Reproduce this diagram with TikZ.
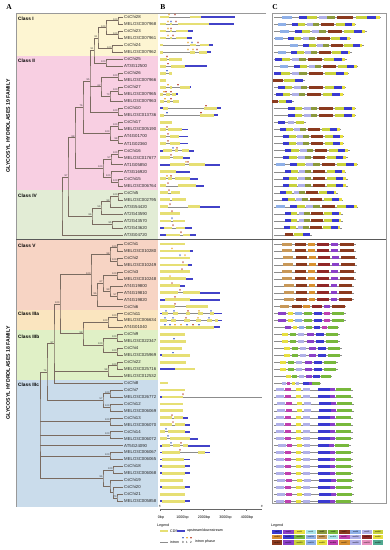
\documentclass[tikz,border=0pt]{standalone}
\usepackage{fontspec}
\setmainfont{Liberation Serif}
\setsansfont{Liberation Sans}
\usetikzlibrary{calc}
\definecolor{bgI}{HTML}{FDF5D2}
\definecolor{bgII}{HTML}{F8CFE2}
\definecolor{bgIV}{HTML}{E2ECD5}
\definecolor{bgV}{HTML}{F7D4C4}
\definecolor{bgIIIa}{HTML}{FAE5BF}
\definecolor{bgIIIb}{HTML}{E0F0C6}
\definecolor{bgIIIc}{HTML}{CADCEB}
\definecolor{treec}{HTML}{7A6B60}
\definecolor{cdsc}{HTML}{E6DF74}
\definecolor{utrc}{HTML}{4242C8}
\definecolor{intc}{HTML}{8C8C8C}
\definecolor{ph0c}{HTML}{3D5CC8}
\definecolor{ph1c}{HTML}{E8A020}
\definecolor{ph2c}{HTML}{B8402A}
\definecolor{mlb}{HTML}{8FB0E8}
\definecolor{mb}{HTML}{3A3AD0}
\definecolor{myg}{HTML}{C8D23C}
\definecolor{mlav}{HTML}{B0B0E8}
\definecolor{mol}{HTML}{8C9A3C}
\definecolor{mbr}{HTML}{8B3A1E}
\definecolor{my}{HTML}{E8E040}
\definecolor{mpu}{HTML}{8A40C8}
\definecolor{mmag}{HTML}{C040B0}
\definecolor{mor}{HTML}{D89030}
\definecolor{mtan}{HTML}{C89858}
\definecolor{mdr}{HTML}{902828}
\definecolor{mgr}{HTML}{78B83C}
\definecolor{mcy}{HTML}{A8E4EC}
\definecolor{mpink}{HTML}{E890C0}
\definecolor{mteal}{HTML}{50A890}
\newcommand\leafY[1]{\pgfmathsetmacro\ly{(#1<33) ? (17+(#1-1)*7.03) : (244+(#1-33)*6.95)}}
\newcommand\clade[5]{%
  \coordinate (t#1) at ($(#3)!0.5!(#4)$);
  \coordinate (#1) at ($(#2,0)!(t#1)!(#2,10)$);
  \draw[tree] (#3) -| (#1) |- (#4);
  \if\relax\detokenize{#5}\relax\else\node[bs] (b#1) at (#1) {#5};\fi
}
\newcommand\kid[2]{\draw[tree] (#1 |- #2) -- (#2);}
\def\hY{1.35}\def\hB{0.95}
\newcommand\gene[4]{%
  \leafY{#1}%
  \draw[intron] (160,\ly) -- (#2,\ly);
  \foreach \tp/\xa/\xb in {#3}{\path[g\tp] (\xa,{\ly-\csname h\tp\endcsname}) rectangle (\xb,{\ly+\csname h\tp\endcsname});}%
  \foreach \mx/\phs in {#4}{\path[ph\phs] (\mx,{\ly-1.5}) -- ++(-0.9,-1.7) -- ++(1.8,0) -- cycle;}%
}
\newcommand\mrow[5]{%
  \leafY{#1}%
  \draw[mline] (274,\ly) -- ({#2+#3*#5+1.5},\ly);
  \foreach \mc/\xa/\xb in #4 {\fill[\mc] ({#2+#3*\xa},{\ly-1.5}) rectangle ({#2+#3*\xb},{\ly+1.5});}%
}
\def\patA{mlb/0/9, mb/15/22, myg/22/30, mlav/32/39, mol/39/46, mbr/48/62, myg/64/74, mb/74/82, my/82/85}
\def\patB{mb/0/7, myg/7/15, mlav/17/24, mol/24/31, mbr/33/47, myg/49/59, mb/59/67, my/67/70}
\def\patC{mbr/0/8, myg/9/18, mb/18/25}
\def\patD{mb/0/7, mlav/10/16, myg/18/26}
\def\patV{mtan/0/10, mbr/13/24, mor/26/33, mdr/35/47, mpu/49/56, mbr/58/72}
\def\patIIIa{mpu/0/8, my/10/15, mlb/17/24, mgr/26/34, mb/36/44, mmag/46/52, mgr/54/66}
\def\patIIIb{my/0/6, mgr/8/14, mlav/16/22, mpu/25/32, mb/34/42, mgr/44/56}
\def\patIIIc{mlav/0/8, mmag/9/15, my/20/25, mlav/27/34, mb/42/54, mpu/54/59, mgr/60/75}
\tikzset{
  tree/.style={draw=treec, line width=0.35pt},
  bs/.style={anchor=south east, inner sep=0.2pt, xshift=-0.2pt, font=\sffamily\fontsize{2.5}{3}\selectfont, text=black!80},
  leaf/.style={anchor=west, inner sep=0pt, font=\sffamily\fontsize{4.3}{5}\selectfont, text=black!85},
  cls/.style={anchor=west, inner sep=0pt, font=\sffamily\bfseries\fontsize{4.8}{5}\selectfont},
  fam/.style={inner sep=0pt, font=\sffamily\bfseries\fontsize{5.2}{6}\selectfont, rotate=90},
  pl/.style={inner sep=0pt, font=\bfseries\fontsize{7.5}{8}\selectfont},
  intron/.style={draw=intc, line width=0.4pt},
  gY/.style={fill=cdsc},
  gB/.style={fill=utrc},
  ph0/.style={fill=ph0c},
  ph1/.style={fill=ph1c},
  ph2/.style={fill=ph2c},
  phn/.style={},
  mline/.style={draw=black!45, line width=0.3pt},
  frame/.style={draw=black!40, line width=0.4pt},
  lgt/.style={anchor=west, inner sep=0pt, font=\sffamily\fontsize{3.6}{4}\selectfont},
  lgc/.style={inner sep=0pt, font=\sffamily\fontsize{1.8}{2}\selectfont},
}
\begin{document}
\begin{tikzpicture}[x=1pt,y=-1pt]
\useasboundingbox (0,0) rectangle (390,550);
\fill[white] (0,0) rectangle (390,550);
% backgrounds
\fill[bgI] (16,13) rectangle (158,56);
\fill[bgII] (16,56) rectangle (158,190);
\fill[bgIV] (16,190) rectangle (158,239);
\fill[bgV] (16,239) rectangle (158,310);
\fill[bgIIIa] (16,310) rectangle (158,330);
\fill[bgIIIb] (16,330) rectangle (158,380);
\fill[bgIIIc] (16,380) rectangle (158,507);
% frames
\draw[frame] (266,13) -- (16,13) -- (16,507);
\draw[frame] (272,13) rectangle (386,503);
\draw[black!65, line width=0.5pt] (16,239) -- (386,239);
% panel letters
\node[pl] (pA) at (9,7) {A};
\node[pl] (pB) at (163,7) {B};
\node[pl] (pC) at (275,7) {C};
\node[fam] (f19) at (8,126) {GLYCOSYL HYDROLASES 19 FAMILY};
\node[fam] (f18) at (8,373) {GLYCOSYL HYDROLASES 18 FAMILY};
% class labels
\node[cls] (cI) at (18,19) {Class I};
\node[cls] (cII) at (18,61) {Class II};
\node[cls] (cIV) at (18,196) {Class IV};
\node[cls] (cV) at (18,246) {Class V};
\node[cls] (cIIIa) at (18,314) {Class IIIa};
\node[cls] (cIIIb) at (18,337) {Class IIIb};
\node[cls] (cIIIc) at (18,385) {Class IIIc};
% leaves
\foreach \i/\nm in {1/CsChi28, 2/MELO3C007968, 3/CsChi23, 4/MELO3C007961, 5/CsChi24, 6/MELO3C007962, 7/CsChi25, 8/AT3G12500, 9/CsChi26, 10/MELO3C007966, 11/CsChi27, 12/MELO3C007965, 13/MELO3C007963, 14/CsChi10, 15/MELO3C013736, 16/CsChi17, 17/MELO3C005190, 18/AT4G01700, 19/AT1G02360, 20/CsChi16, 21/MELO3C017677, 22/AT1G05850, 23/AT3G16920, 24/CsChi15, 25/MELO3C006764, 26/CsChi5, 27/MELO3C002795, 28/AT3G54420, 29/AT2G43590, 30/AT2G43570, 31/AT2G43620, 32/AT3G04720, 33/CsChi1, 34/MELO3C010280, 35/CsChi2, 36/MELO3C010249, 37/CsChi3, 38/MELO3C010248, 39/AT4G19800, 40/AT4G19810, 41/AT4G19820, 42/CsChi6, 43/CsChi11, 44/MELO3C006634, 45/AT4G01040, 46/CsChi9, 47/MELO3C022347, 48/CsChi4, 49/MELO3C025969, 50/CsChi22, 51/MELO3C025716, 52/MELO3C012532, 53/CsChi8, 54/CsChi7, 55/MELO3C026772, 56/CsChi12, 57/MELO3C006069, 58/CsChi13, 59/MELO3C006070, 60/CsChi14, 61/MELO3C006072, 62/AT5G24090, 63/MELO3C006067, 64/MELO3C006065, 65/CsChi18, 66/MELO3C006068, 67/CsChi19, 68/CsChi20, 69/CsChi21, 70/MELO3C005858}{
  \leafY{\i}
  \coordinate (L\i) at (123,\ly);
  \node[leaf] (T\i) at (124,\ly) {\nm};
}
% ---- GH19 tree
\clade{n12}{118}{L1}{L2}{100}
\clade{n34}{118}{L3}{L4}{100}
\clade{n14}{106}{n12}{n34}{100}
\clade{n56}{112}{L5}{L6}{100}
\clade{nI}{98}{n14}{n56}{81}
\clade{n78}{106}{L7}{L8}{100}
\clade{nC}{94}{nI}{n78}{91}
\clade{n910}{118}{L9}{L10}{100}
\clade{n1112}{118}{L11}{L12}{100}
\clade{n13}{110}{n1112}{L13}{70}
\clade{nA}{101}{n910}{n13}{62}
\clade{n1415}{118}{L14}{L15}{100}
\clade{nX}{90}{nC}{n1415}{95}
\kid{nX}{nA}
\clade{n1617}{118}{L16}{L17}{100}
\clade{n1819}{118}{L18}{L19}{98}
\clade{nS}{110}{n1617}{n1819}{100}
\clade{nY}{83}{nX}{nS}{76}
\clade{n2021}{118}{L20}{L21}{100}
\clade{n22}{111}{n2021}{L22}{57}
\clade{n2425}{118}{L24}{L25}{100}
\clade{n23}{111}{L23}{n2425}{100}
\clade{nR}{103}{n22}{n23}{100}
\clade{nZ}{75}{nY}{nR}{88}
\clade{n2627}{118}{L26}{L27}{100}
\clade{nQa}{110}{n2627}{L28}{99}
\clade{nQb}{101}{nQa}{L29}{59}
\clade{n3031}{112}{L30}{L31}{95}
\clade{nQc}{92}{nQb}{n3031}{86}
\clade{nG}{68}{nZ}{nQc}{97}
\clade{r19}{62}{nG}{L32}{}
% ---- GH18 tree
\clade{a1}{117}{L33}{L34}{100}
\clade{a2}{117}{L35}{L36}{100}
\clade{a3}{110}{a1}{a2}{98}
\clade{a4}{117}{L37}{L38}{100}
\clade{a5}{117}{L40}{L41}{57}
\clade{a6}{110}{L39}{a5}{99}
\clade{a7}{103}{a4}{a6}{67}
\clade{a8}{97}{a7}{L42}{96}
\clade{a9}{91}{a3}{a8}{100}
\clade{b1}{117}{L43}{L44}{100}
\clade{b2}{108}{b1}{L45}{100}
\clade{c1}{117}{L46}{L47}{100}
\clade{c2}{117}{L48}{L49}{100}
\clade{c3}{103}{c1}{c2}{100}
\clade{c4}{117}{L50}{L51}{100}
\clade{c5}{108}{c4}{L52}{98}
\clade{d1}{83}{b2}{c3}{98}
\clade{d2}{60}{a9}{d1}{100}
\clade{d3}{54}{d2}{L53}{97}
\kid{d3}{c5}
\clade{e1}{110}{L54}{L55}{100}
\clade{e2}{110}{L56}{L57}{100}
\clade{e3}{103}{e1}{e2}{57}
\clade{ff}{47}{d3}{e3}{74}
\clade{g1}{110}{L58}{L59}{100}
\clade{g2}{110}{L60}{L61}{100}
\clade{g3}{110}{L63}{L64}{100}
\clade{h1}{113}{L65}{L66}{100}
\clade{h2}{117}{L69}{L70}{70}
\clade{h3}{113}{L68}{h2}{}
\clade{h4}{110}{L67}{h3}{}
\clade{h5}{103}{h1}{h4}{96}
\clade{r18}{40}{ff}{h5}{}
\kid{r18}{g1}
\kid{r18}{g2}
\kid{r18}{L62}
\kid{r18}{g3}
% ---- panel B gene structures
\gene{1}{235}{Y/160/169, Y/190/201, B/201/235}{169/1, 175/2}
\gene{2}{234}{Y/160/166, Y/170/172, Y/178/209, B/209/234}{168/1, 171/0, 176/2}
\gene{3}{193}{Y/160/166, Y/170/172, Y/176/188, B/188/193}{168/1, 171/2}
\gene{4}{192}{Y/160/166, Y/170/172, Y/176/187, B/187/192}{168/1, 173/2}
\gene{5}{213}{Y/160/163, Y/190/196, Y/200/209, B/209/213}{188/1, 192/0, 198/2}
\gene{6}{211}{Y/160/163, Y/190/195, Y/199/207, B/207/211}{188/1, 193/1, 197/2}
\gene{7}{182}{Y/160/167, Y/169/182}{167/2}
\gene{8}{207}{Y/160/166, Y/171/185, B/185/207}{168/2}
\gene{9}{172}{Y/160/166, Y/169/172}{167/0}
\gene{10}{166}{Y/160/166}{0/n}
\gene{11}{191}{Y/160/166, Y/170/172, Y/180/190, B/190/191}{168/1, 178/2}
\gene{12}{178}{Y/160/163, Y/166/170, Y/172/176, B/176/178}{164/1, 166/2, 171/2}
\gene{13}{179}{Y/160/164, Y/167/170, Y/173/179}{165/1, 171/2}
\gene{14}{221}{B/160/163, Y/163/168, Y/204/217, B/217/221}{206/2}
\gene{15}{218}{Y/160/164, Y/200/214, B/214/218}{167/0, 201/2}
\gene{16}{172}{Y/160/172}{0/n}
\gene{17}{188}{Y/160/166, Y/168/182, B/182/188}{167/2}
\gene{18}{188}{Y/160/166, Y/170/179, B/179/188}{168/2}
\gene{19}{188}{Y/160/166, Y/170/180, B/180/188}{168/2}
\gene{20}{194}{B/160/163, Y/163/172, Y/175/178, Y/182/189, B/189/194}{173/0, 177/2}
\gene{21}{190}{Y/160/170, Y/173/183, B/183/190}{171/2}
\gene{22}{220}{B/160/170, Y/170/185, Y/189/205, B/205/220}{186/1, 188/2}
\gene{23}{190}{Y/160/176, B/176/190}{0/n}
\gene{24}{198}{Y/160/166, Y/168/172, Y/175/190, B/190/198}{167/1, 171/2}
\gene{25}{204}{Y/160/166, Y/178/196, B/196/204}{168/2}
\gene{26}{180}{Y/160/168, Y/171/180}{169/2}
\gene{27}{186}{Y/160/170, Y/172/186}{0/n}
\gene{28}{220}{Y/160/168, Y/188/200, B/200/220}{170/2}
\gene{29}{180}{Y/160/180}{172/2}
\gene{30}{185}{Y/160/171, Y/173/185}{172/0}
\gene{31}{192}{B/160/164, Y/164/172, Y/176/185, B/185/192}{173/2}
\gene{32}{196}{B/160/166, Y/166/180, Y/183/190, B/190/196}{181/2}
\gene{33}{185}{Y/160/185}{0/n}
\gene{34}{193}{Y/160/190, B/190/193}{172/1}
\gene{35}{190}{Y/160/190}{180/0, 185/1}
\gene{36}{192}{Y/160/188, B/188/192}{183/2}
\gene{37}{190}{Y/160/190}{182/2}
\gene{38}{193}{Y/160/186, B/186/193}{170/1}
\gene{39}{185}{Y/160/180, B/180/185}{172/2}
\gene{40}{220}{Y/160/178, Y/183/200, B/200/220}{180/2}
\gene{41}{220}{B/160/165, Y/165/190, B/190/220}{175/2}
\gene{42}{208}{Y/160/175, Y/186/208}{175/2}
\gene{43}{222}{B/160/162, Y/162/168, Y/173/178, Y/186/190, Y/198/203, Y/210/214, B/214/222}{166/0, 174/0, 188/2, 199/1, 211/0}
\gene{44}{222}{Y/160/167, Y/171/176, Y/184/190, Y/196/201, Y/207/212, Y/215/218, B/218/222}{165/0, 173/0, 186/2, 198/1, 209/0}
\gene{45}{220}{Y/160/214, B/214/220}{165/0, 170/0, 175/1, 181/1, 187/0, 193/2, 199/0}
\gene{46}{185}{Y/160/185}{0/n}
\gene{47}{186}{Y/160/186}{174/0}
\gene{48}{182}{Y/160/182}{0/n}
\gene{49}{190}{B/160/162, Y/162/190}{173/0}
\gene{50}{186}{Y/160/186}{0/n}
\gene{51}{195}{B/160/175, Y/175/195}{0/n}
\gene{53}{168}{Y/160/168}{0/n}
\gene{54}{185}{Y/160/185}{0/n}
\gene{55}{262}{B/160/162, Y/162/183}{183/2}
\gene{56}{183}{Y/160/183}{0/n}
\gene{57}{183}{Y/160/183}{0/n}
\gene{58}{188}{Y/160/172, Y/174/183, B/183/188}{172/2}
\gene{59}{190}{Y/160/172, Y/175/185, B/185/190}{173/2}
\gene{60}{190}{Y/160/165, Y/168/185, B/185/190}{166/0}
\gene{61}{198}{Y/160/167, Y/170/190, B/190/198}{168/0}
\gene{62}{210}{B/160/162, Y/162/170, Y/173/180, Y/183/188, B/188/210}{171/0, 181/2}
\gene{63}{210}{B/160/162, Y/162/180, Y/198/205, B/205/210}{180/2}
\gene{64}{190}{B/160/162, Y/162/184, B/184/190}{0/n}
\gene{65}{190}{B/160/162, Y/162/185, B/185/190}{0/n}
\gene{66}{190}{B/160/162, Y/162/185, B/185/190}{0/n}
\gene{67}{183}{Y/160/183}{0/n}
\gene{68}{190}{B/160/162, Y/162/185, B/185/190}{0/n}
\gene{69}{185}{Y/160/185}{0/n}
\gene{70}{190}{B/160/162, Y/162/185, B/185/190}{0/n}
% scale axis
\coordinate (ax0) at (160,509);
\coordinate (ax1) at (262,509);
\draw[black!60, line width=0.4pt] (ax0) -- (ax1);
\foreach \k/\lab in {0/0bp, 1/1000bp, 2/2000bp, 3/3000bp, 4/4000bp}{
  \draw[black!60, line width=0.3pt] ({160+21.5*\k},509) -- ({160+21.5*\k},511);
  \node[inner sep=0pt, font=\sffamily\fontsize{3.6}{4}\selectfont] (ax\k) at ({161+21.5*\k},518) {\lab};
}
\node[inner sep=0pt, font=\sffamily\fontsize{3}{3}\selectfont] (a5p) at (160,506) {5'};
\node[inner sep=0pt, font=\sffamily\fontsize{3}{3}\selectfont] (a3p) at (262,506) {3'};
% legend B
\node[lgt] (lgB) at (157,526) {Legend};
\fill[cdsc] (160,529.7) rectangle (168,532.3);
\node[lgt] (lcds) at (170,531) {CDS};
\fill[utrc] (177,530.1) rectangle (185,531.9);
\node[lgt] (lutr) at (187,531) {upstream/downstream};
\draw[intron] (160,542) -- (168,542);
\node[lgt] (lint) at (170,542) {intron};
\foreach \q/\xx in {0/183, 1/187, 2/191}{
  \path[ph\q] (\xx,538.8) -- ++(-0.9,-1.7) -- ++(1.8,0) -- cycle;
  \node[inner sep=0pt, font=\sffamily\fontsize{3}{3}\selectfont] (lph\q) at (\xx,542) {\q};
}
\node[lgt] (lphase) at (195,542) {intron phase};
% ---- panel C motifs
\mrow{1}{282}{1.15}{\patA}{85}
\mrow{2}{278}{0.9}{\patA}{85}
\mrow{3}{280}{1.0}{\patA}{85}
\mrow{4}{275}{0.88}{\patA}{85}
\mrow{5}{290}{0.85}{\patA}{85}
\mrow{6}{278}{0.85}{\patA}{85}
\mrow{7}{275}{1.0}{\patB}{70}
\mrow{8}{280}{0.9}{\patA}{85}
\mrow{9}{274}{1.05}{\patB}{70}
\mrow{10}{273}{1.2}{\patC}{25}
\mrow{11}{278}{0.95}{\patB}{70}
\mrow{12}{276}{0.95}{\patB}{70}
\mrow{13}{272}{0.8}{\patC}{25}
\mrow{14}{288}{0.95}{\patB}{70}
\mrow{15}{288}{0.95}{\patB}{70}
\mrow{16}{278}{1.0}{\patD}{26}
\mrow{17}{280}{0.85}{\patB}{70}
\mrow{18}{283}{0.85}{\patB}{70}
\mrow{19}{283}{0.85}{\patB}{70}
\mrow{20}{285}{0.9}{\patB}{70}
\mrow{21}{283}{0.9}{\patB}{70}
\mrow{22}{276}{0.95}{\patA}{85}
\mrow{23}{285}{0.85}{\patB}{70}
\mrow{24}{283}{0.9}{\patB}{70}
\mrow{25}{283}{0.9}{\patB}{70}
\mrow{26}{280}{0.8}{\patB}{70}
\mrow{27}{282}{0.85}{\patB}{70}
\mrow{28}{276}{0.95}{\patA}{85}
\mrow{29}{285}{0.8}{\patB}{70}
\mrow{30}{285}{0.8}{\patB}{70}
\mrow{31}{284}{0.8}{\patB}{70}
\mrow{32}{285}{1.0}{\patC}{25}
\mrow{33}{282}{1.0}{\patV}{72}
\mrow{34}{282}{1.0}{\patV}{72}
\mrow{35}{283}{1.0}{\patV}{72}
\mrow{36}{283}{1.0}{\patV}{72}
\mrow{37}{282}{1.0}{\patV}{72}
\mrow{38}{282}{1.0}{\patV}{72}
\mrow{39}{284}{0.95}{\patV}{72}
\mrow{40}{284}{0.95}{\patV}{72}
\mrow{41}{284}{0.95}{\patV}{72}
\mrow{42}{280}{0.9}{\patV}{72}
\mrow{43}{278}{1.0}{\patIIIa}{66}
\mrow{44}{278}{1.0}{\patIIIa}{66}
\mrow{45}{285}{0.8}{\patIIIa}{66}
\mrow{46}{282}{1.0}{\patIIIb}{56}
\mrow{47}{282}{1.0}{\patIIIb}{56}
\mrow{48}{284}{1.0}{\patIIIb}{56}
\mrow{49}{284}{1.0}{\patIIIb}{56}
\mrow{50}{280}{1.0}{\patIIIb}{56}
\mrow{51}{280}{1.0}{\patIIIb}{56}
\mrow{52}{286}{0.8}{\patIIIb}{56}
\mrow{53}{282}{0.5}{\patIIIc}{75}
\mrow{54}{276}{1.0}{\patIIIc}{75}
\mrow{55}{276}{1.0}{\patIIIc}{75}
\mrow{56}{277}{1.0}{\patIIIc}{75}
\mrow{57}{277}{1.0}{\patIIIc}{75}
\mrow{58}{276}{1.0}{\patIIIc}{75}
\mrow{59}{276}{1.0}{\patIIIc}{75}
\mrow{60}{276}{1.0}{\patIIIc}{75}
\mrow{61}{276}{1.0}{\patIIIc}{75}
\mrow{62}{278}{0.95}{\patIIIc}{75}
\mrow{63}{276}{1.0}{\patIIIc}{75}
\mrow{64}{276}{1.0}{\patIIIc}{75}
\mrow{65}{276}{1.0}{\patIIIc}{75}
\mrow{66}{276}{1.0}{\patIIIc}{75}
\mrow{67}{277}{1.0}{\patIIIc}{75}
\mrow{68}{276}{1.0}{\patIIIc}{75}
\mrow{69}{277}{1.0}{\patIIIc}{75}
\mrow{70}{276}{1.0}{\patIIIc}{75}
% legend C
\node[lgt] (lgC) at (271,526) {Legend};
\foreach \i/\mc in {1/mb, 2/mpu, 3/my, 4/mcy, 5/mol, 6/mgr, 7/mbr, 8/mlb, 9/mlav, 10/myg, 11/mor, 12/mb, 13/mgr, 14/mlb, 15/mtan, 16/mcy, 17/mmag, 18/mlav, 19/mdr, 20/my, 21/mbr, 22/mpu, 23/myg, 24/mlb, 25/my, 26/mmag, 27/mor, 28/mlav, 29/mpink, 30/mteal}{
  \pgfmathsetmacro\cx{272+mod(\i-1,10)*11.2}
  \pgfmathsetmacro\cy{529.5+floor((\i-1)/10)*5.4}
  \fill[\mc] (\cx,\cy) rectangle ({\cx+10.4},{\cy+4.4});
  \node[lgc] (lc\i) at ({\cx+5.2},{\cy+2.2}) {motif\i};
}
\end{tikzpicture}
\end{document}
